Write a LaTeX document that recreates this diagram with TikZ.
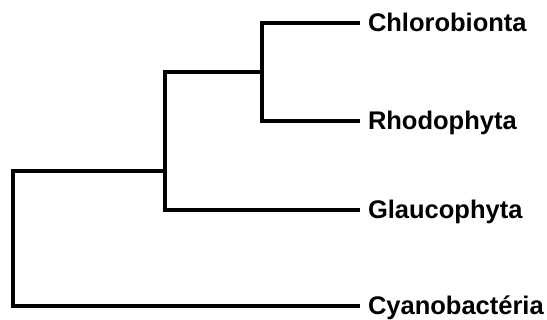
\documentclass[tikz,border=0pt]{standalone}
\usepackage{fontspec}
\setmainfont{Liberation Sans}
\usepackage{tikz}
\usetikzlibrary{calc}

\tikzset{
  taxon/.style={anchor=west,inner sep=0pt,outer xsep=10pt,text height=18pt,text depth=0pt,
    font=\fontsize{25.5}{30}\selectfont\bfseries},
  ast/.style={line width=3.2pt,line join=miter,line cap=rect}
}

\begin{document}
\begin{tikzpicture}[x=1pt,y=1pt]
  \useasboundingbox (0,0) rectangle (547,-320);
  % Taxa rechts
  \node[taxon] (chl) at (358,-23) {Chlorobionta};
  \node[taxon] (rho) at (358,-121) {Rhodophyta};
  \node[taxon] (gla) at (358,-210) {Glaucophyta};
  \node[taxon] (cya) at (358,-306) {Cyanobactéria};
  % innere Knoten
  \coordinate (wurzel) at (13,-171);
  \coordinate (k1) at (165,-171);
  \coordinate (k2) at (262,-72);
  % Aeste
  \draw[ast] (cya.west) -| (wurzel) -- (k1);
  \draw[ast] (gla.west) -| (k1) |- (k2);
  \draw[ast] (chl.west) -| (k2);
  \draw[ast] (rho.west) -| (k2);
\end{tikzpicture}
\end{document}
